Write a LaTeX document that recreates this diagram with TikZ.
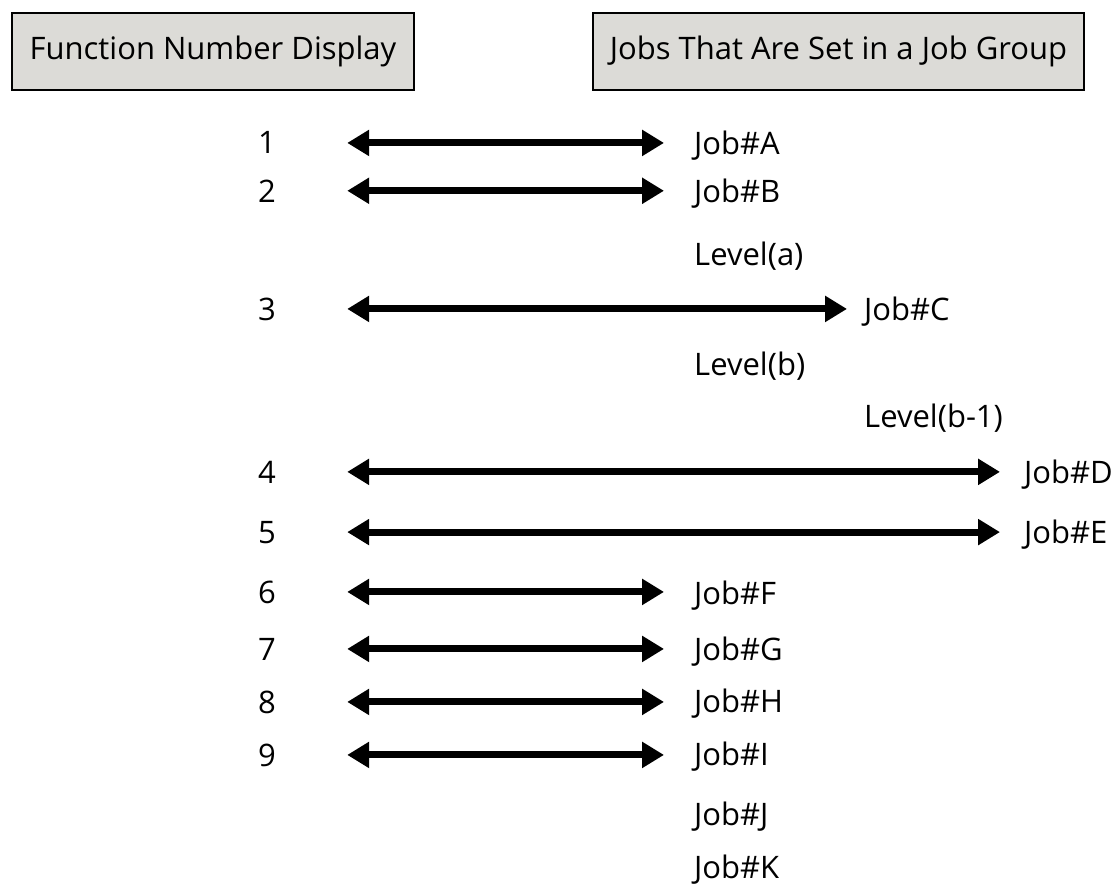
\documentclass[tikz,border=0pt]{standalone}
\usepackage{fontspec}
\setmainfont{Open Sans}
\usetikzlibrary{arrows.meta}
\definecolor{boxgray}{RGB}{220,219,215}
\begin{document}
\begin{tikzpicture}[x=1pt,y=-1pt,
  every node/.style={font=\fontsize{31}{37}\selectfont, inner sep=0pt},
  headbox/.style={draw=black, line width=2pt, fill=boxgray, minimum height=77pt, anchor=north west},
  numlbl/.style={minimum width=30pt, align=center, anchor=base},
  joblbl/.style={anchor=base west},
  dblarrow/.style={line width=7pt, {Triangle[length=22pt,width=25pt]}-{Triangle[length=22pt,width=25pt]}, shorten <=65pt}
]
\useasboundingbox (0,0) rectangle (1117,888);
\node[headbox, minimum width=402pt] (hl) at (11,12) {Function Number Display};
\node[headbox, minimum width=491pt] (hr) at (592,12) {Jobs That Are Set in a Job Group};

\node[numlbl] (n1) at (267,154) {1};
\node[numlbl] (n2) at (267,202) {2};
\node[numlbl] (n3) at (267,320) {3};
\node[numlbl] (n4) at (267,483) {4};
\node[numlbl] (n5) at (267,543) {5};
\node[numlbl] (n6) at (267,603) {6};
\node[numlbl] (n7) at (267,660) {7};
\node[numlbl] (n8) at (267,713) {8};
\node[numlbl] (n9) at (267,766) {9};

\node[joblbl] (jA) at (694,155) {Job\#A};
\node[joblbl] (jB) at (694,203) {Job\#B};
\node[joblbl] (la) at (694,265) {Level(a)};
\node[joblbl] (jC) at (864,320) {Job\#C};
\node[joblbl] (lb) at (694,375) {Level(b)};
\node[joblbl] (lb1) at (864,427) {Level(b-1)};
\node[joblbl] (jD) at (1024,483) {Job\#D};
\node[joblbl] (jE) at (1024,543) {Job\#E};
\node[joblbl] (jF) at (694,604) {Job\#F};
\node[joblbl] (jG) at (694,660) {Job\#G};
\node[joblbl] (jH) at (694,712) {Job\#H};
\node[joblbl] (jI) at (694,765) {Job\#I};
\node[joblbl] (jJ) at (694,825) {Job\#J};
\node[joblbl] (jK) at (694,878) {Job\#K};

\draw[dblarrow, shorten >=30pt] (n1.east) -- (n1.east -| jA.west);
\draw[dblarrow, shorten >=30pt] (n2.east) -- (n2.east -| jB.west);
\draw[dblarrow, shorten >=17pt] (n3.east) -- (n3.east -| jC.west);
\draw[dblarrow, shorten >=24pt] (n4.east) -- (n4.east -| jD.west);
\draw[dblarrow, shorten >=24pt] (n5.east) -- (n5.east -| jE.west);
\draw[dblarrow, shorten >=30pt] (n6.east) -- (n6.east -| jF.west);
\draw[dblarrow, shorten >=30pt] (n7.east) -- (n7.east -| jG.west);
\draw[dblarrow, shorten >=30pt] (n8.east) -- (n8.east -| jH.west);
\draw[dblarrow, shorten >=30pt] (n9.east) -- (n9.east -| jI.west);
\end{tikzpicture}
\end{document}
